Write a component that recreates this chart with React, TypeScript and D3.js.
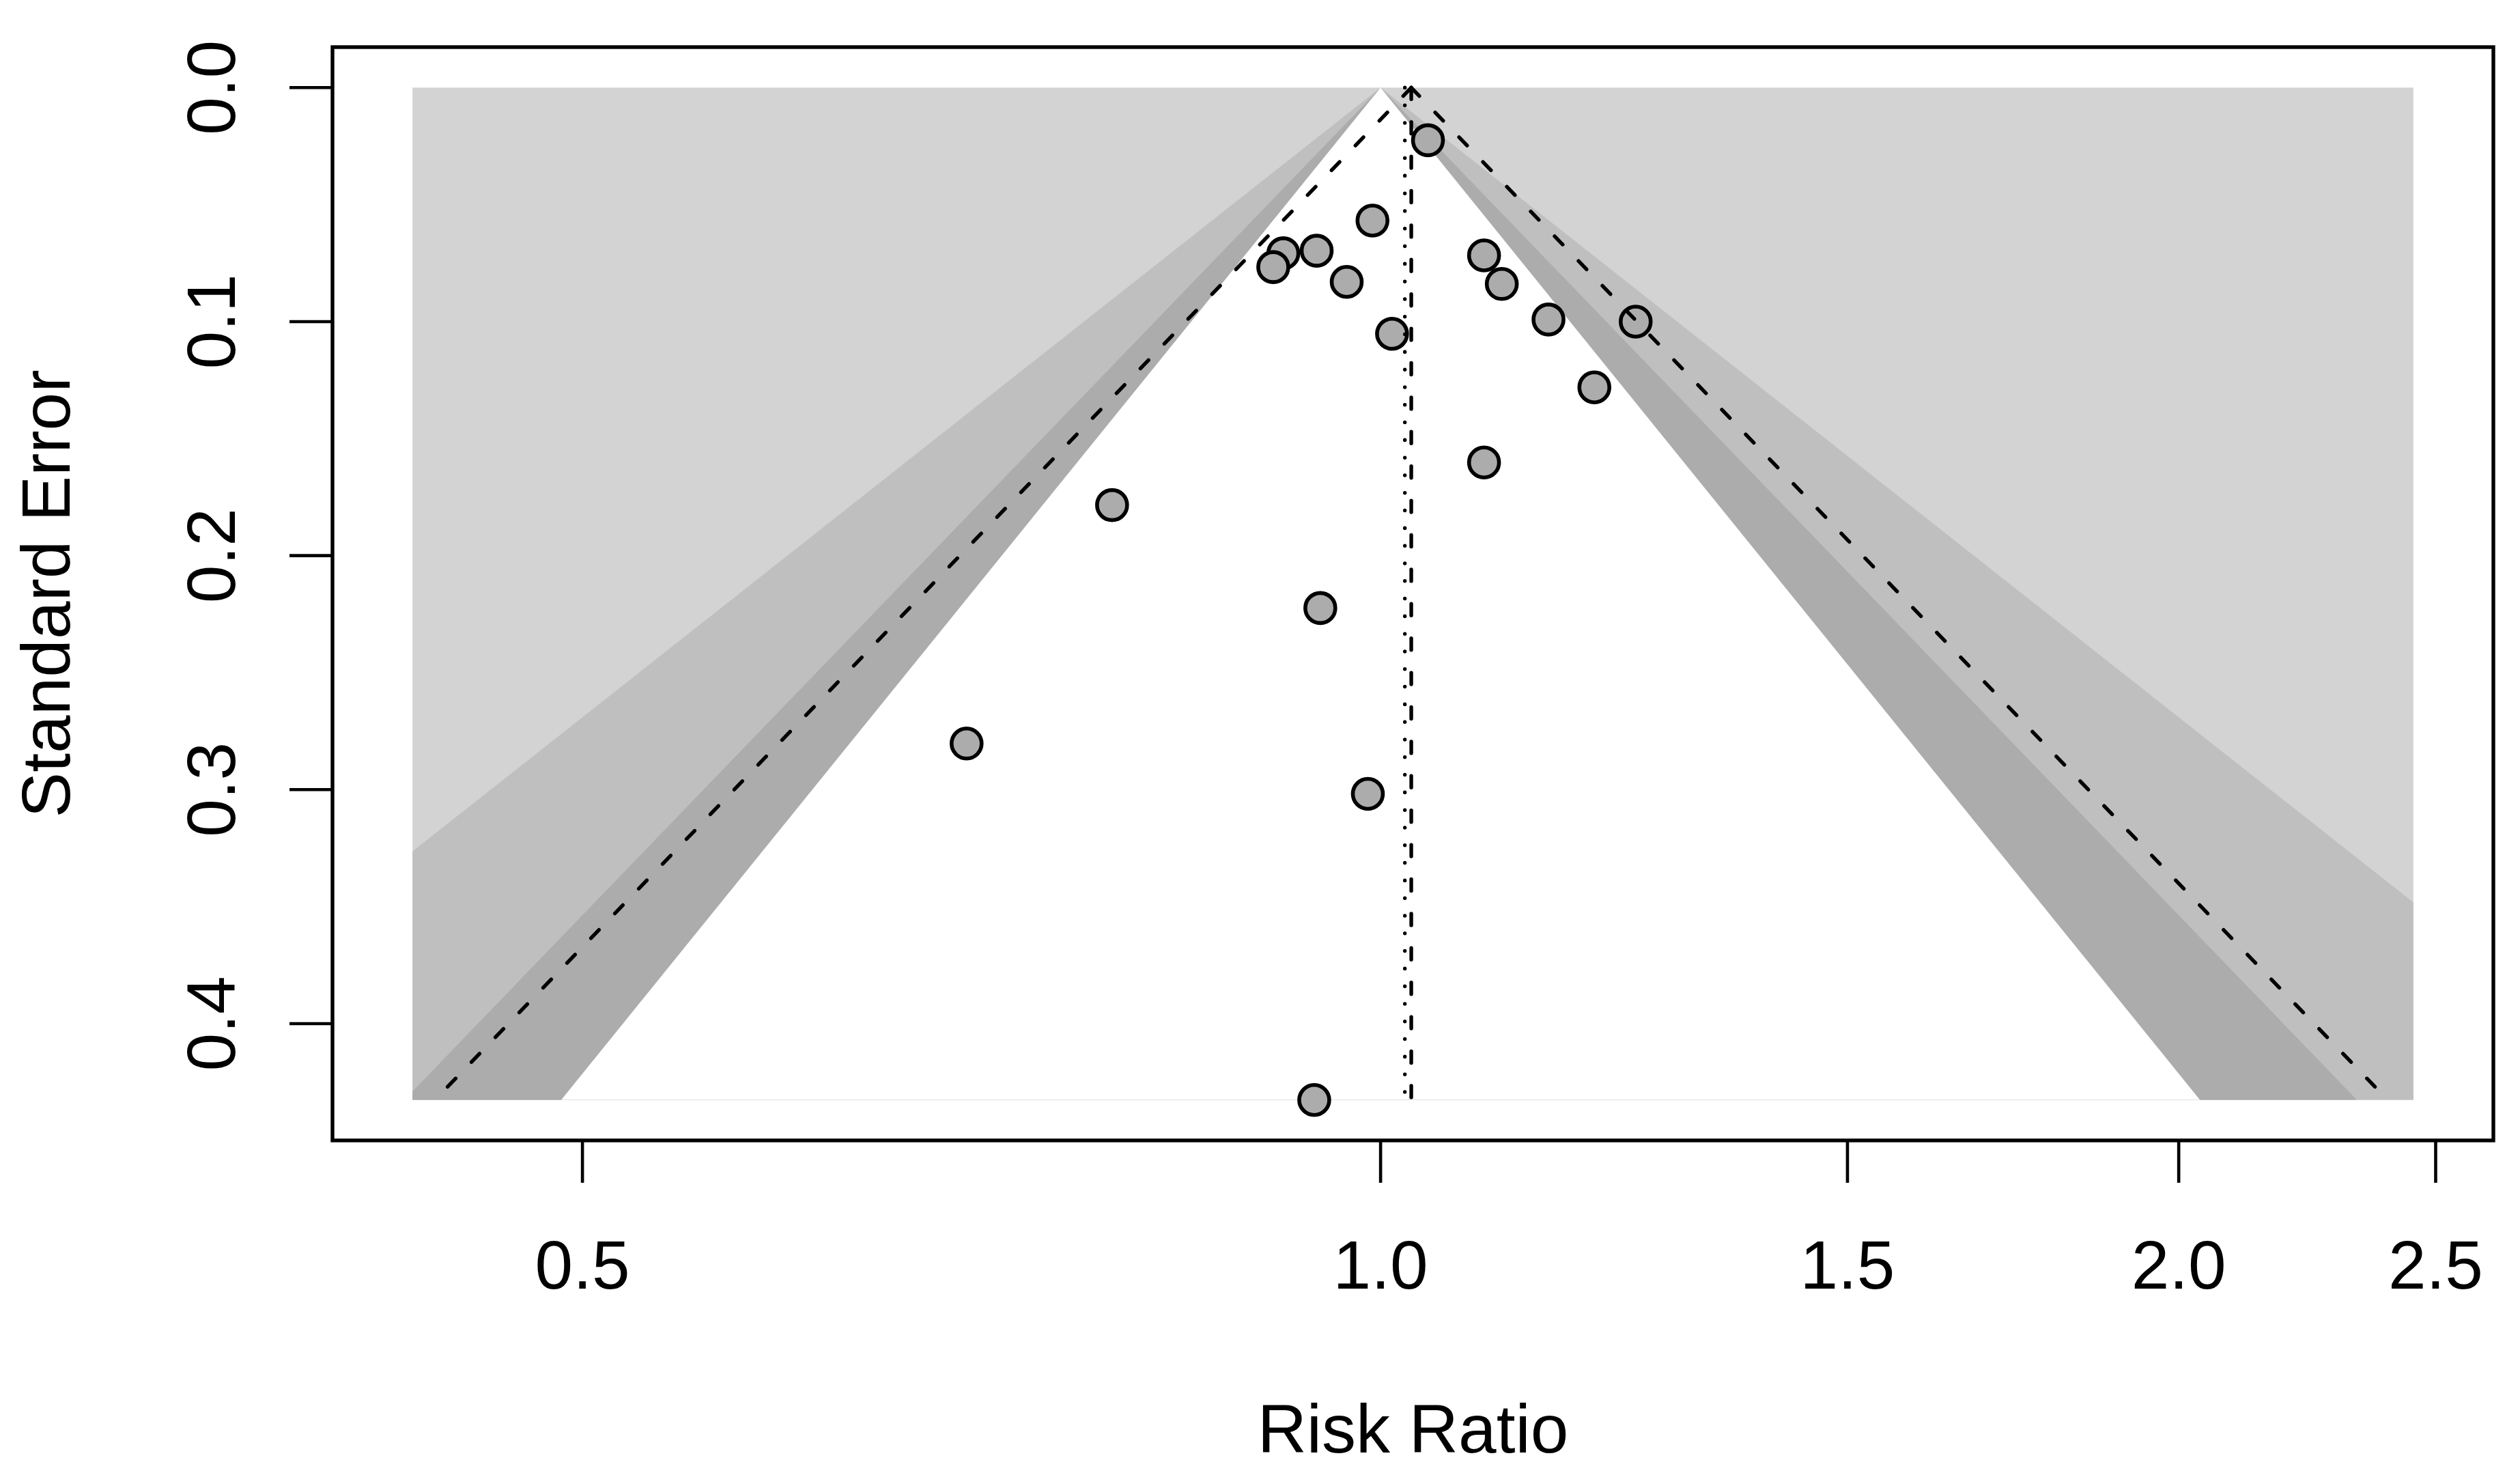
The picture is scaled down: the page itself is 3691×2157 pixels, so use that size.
import React from 'react';
import * as d3 from 'd3';

// ---- data ----
const studyRR = [1.042, 0.993, 0.946, 0.919, 0.911, 0.971, 1.094, 1.111, 1.157, 1.248, 1.010, 1.204, 1.094, 0.792, 0.949, 0.989, 0.698, 0.944];
const studySE = [0.0225, 0.0568, 0.0697, 0.0708, 0.0767, 0.0830, 0.0717, 0.0839, 0.0991, 0.1000, 0.1052, 0.1281, 0.1602, 0.1784, 0.2224, 0.3018, 0.2803, 0.4326];

const xTicks = [0.5, 1.0, 1.5, 2.0, 2.5];
const xTickLabels = ['0.5', '1.0', '1.5', '2.0', '2.5'];
const yTicks = [0, 0.1, 0.2, 0.3, 0.4];
const yTickLabels = ['0.0', '0.1', '0.2', '0.3', '0.4'];

const contourZ = [2.576, 1.96, 1.645]; // 99%, 95%, 90%
const contourFills = ['#bfbfbf', '#acacac', '#ffffff'];
const backgroundFill = '#d3d3d3';
const contourCenterRR = 1.0;
const pooledRR = 1.027;
const refLineRR = 1.0213;
const ciZ = 1.96;
const xLimRR = [0.4314, 2.452];

const xLabel = 'Risk Ratio';
const yLabel = 'Standard Error';

// ---- layout ----
const W = 3691;
const H = 2157;
const boxL = 487;
const boxR = 3652;
const boxT = 69;
const boxB = 1670;
const FONT = '"Liberation Sans", Arial, Helvetica, sans-serif';

export default function App() {
  const seMax = d3.max(studySE) as number;
  const lo = Math.log(xLimRR[0]);
  const hi = Math.log(xLimRR[1]);
  const pad = 0.04 * (hi - lo);
  const x = d3.scaleLog().domain([Math.exp(lo - pad), Math.exp(hi + pad)]).range([boxL, boxR]);
  const y = d3.scaleLinear().domain([-0.04 * seMax, 1.04 * seMax]).range([boxT, boxB]);

  const line = d3.line<[number, number]>().x(d => x(d[0])).y(d => y(d[1]));

  const tri = (center: number, z: number): [number, number][] => [
    [center * Math.exp(-z * seMax), seMax],
    [center, 0],
    [center * Math.exp(z * seMax), seMax],
  ];

  const regX0 = x(xLimRR[0]);
  const regX1 = x(xLimRR[1]);
  const regY0 = y(0);
  const regY1 = y(seMax);

  const lw = 5.4;
  const dash = '17 33.4';

  return (
    <svg width={W} height={H} style={{ position: 'absolute', left: 0, top: 0, background: '#fff' }}
      xmlns="http://www.w3.org/2000/svg">
      <defs>
        <clipPath id="region">
          <rect x={regX0} y={regY0} width={regX1 - regX0} height={regY1 - regY0} />
        </clipPath>
      </defs>
      <rect x={0} y={0} width={W} height={H} fill="#fff" />
      {/* contour shading */}
      <rect x={regX0} y={regY0} width={regX1 - regX0} height={regY1 - regY0} fill={backgroundFill} />
      <g clipPath="url(#region)">
        {contourZ.map((z, i) => (
          <path key={i} d={(line(tri(contourCenterRR, z)) as string) + 'Z'} fill={contourFills[i]} stroke="none" />
        ))}
      </g>

      {/* points */}
      <g>
        {studyRR.map((rr, i) => (
          <circle key={i} cx={x(rr)} cy={y(studySE[i])} r={22} fill="#acacac" stroke="#000" strokeWidth={5.6} />
        ))}
      </g>

      {/* reference lines */}
      <path d={line([[refLineRR, 0], [refLineRR, seMax]]) as string} fill="none" stroke="#000"
        strokeWidth={lw} strokeDasharray="0.1 25.7" strokeLinecap="round" />
      <path d={line([[pooledRR, 0], [pooledRR, seMax]]) as string} fill="none" stroke="#000"
        strokeWidth={lw} strokeDasharray={dash} strokeLinecap="round" />
      <path d={line([tri(pooledRR, ciZ)[1], tri(pooledRR, ciZ)[0]]) as string} fill="none" stroke="#000"
        strokeWidth={lw} strokeDasharray={dash} strokeLinecap="round" />
      <path d={line([tri(pooledRR, ciZ)[1], tri(pooledRR, ciZ)[2]]) as string} fill="none" stroke="#000"
        strokeWidth={lw} strokeDasharray={dash} strokeLinecap="round" />

      {/* box */}
      <rect x={boxL} y={boxT} width={boxR - boxL} height={boxB - boxT} fill="none" stroke="#000" strokeWidth={lw} />

      {/* x axis */}
      <g>
        {xTicks.map((t, i) => (
          <g key={i}>
            <line x1={x(t)} x2={x(t)} y1={boxB} y2={boxB + 62} stroke="#000" strokeWidth={4.6} />
            <text x={x(t)} y={1887} textAnchor="middle" fontFamily={FONT} fontSize={100} fill="#000">
              {xTickLabels[i]}
            </text>
          </g>
        ))}
        <text x={(boxL + boxR) / 2} y={2127} textAnchor="middle" fontFamily={FONT} fontSize={100} fill="#000">
          {xLabel}
        </text>
      </g>

      {/* y axis */}
      <g>
        {yTicks.map((t, i) => (
          <g key={i}>
            <line x1={boxL - 63} x2={boxL} y1={y(t)} y2={y(t)} stroke="#000" strokeWidth={4.6} />
            <text transform={`translate(344, ${y(t)}) rotate(-90)`} textAnchor="middle" fontFamily={FONT}
              fontSize={100} fill="#000">
              {yTickLabels[i]}
            </text>
          </g>
        ))}
        <text transform={`translate(102, ${(boxT + boxB) / 2}) rotate(-90)`} textAnchor="middle"
          fontFamily={FONT} fontSize={100} fill="#000">
          {yLabel}
        </text>
      </g>
    </svg>
  );
}
